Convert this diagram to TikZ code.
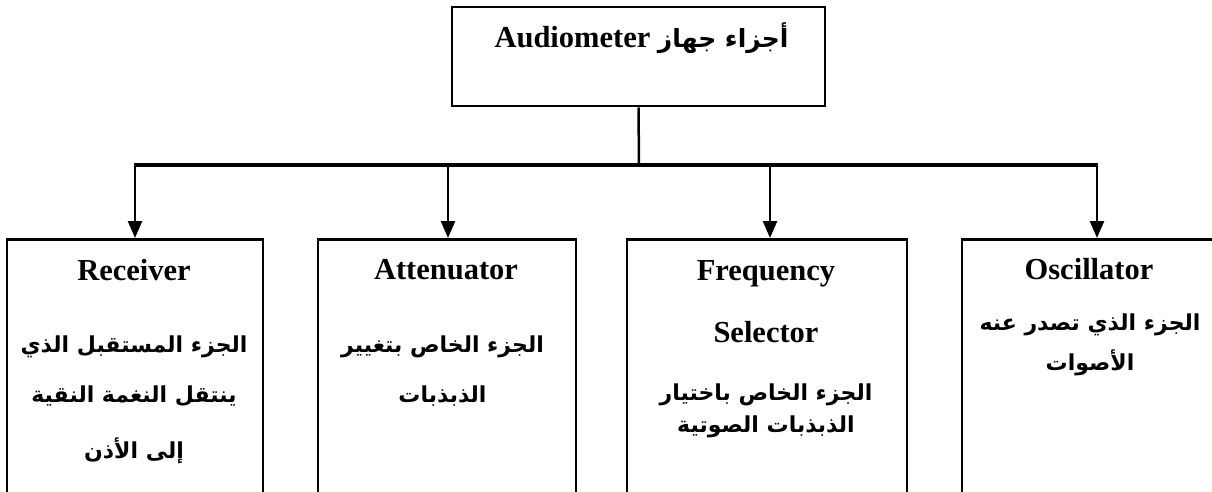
\documentclass[tikz,border=0pt]{standalone}
\usepackage{fontspec}
\setmainfont{Liberation Serif}
\newfontfamily\arabicfont[Script=Arabic]{DejaVu Sans}
\TeXXeTstate=1
\usetikzlibrary{arrows.meta}
\newcommand{\ar}[1]{{\arabicfont\bfseries\beginR #1\endR}}
\begin{document}
\begin{tikzpicture}[x=1pt,y=-1pt,
  boxstyle/.style={draw,line width=2.5pt,inner sep=0pt,anchor=north},
  entext/.style={font=\fontsize{30.5}{33}\selectfont\bfseries,anchor=base,inner sep=0pt},
  artext/.style={font=\fontsize{22}{26}\selectfont,anchor=base,inner sep=0pt},
  conn/.style={line width=2.5pt},
  arr/.style={line width=2.5pt,-{Triangle[length=17pt,width=14pt]}}]
\useasboundingbox (0,0) rectangle (1212,492);
\clip (0,0) rectangle (1212,492);
% top box
\node[boxstyle,minimum width=373pt,minimum height=99pt] (top) at (638.5,6) {};
\node[entext] (toptxt) at (641.5,48) {Audiometer {\fontsize{25}{28}\selectfont\ar{أجزاء جهاز}}};
% bottom boxes
\node[boxstyle,minimum width=256pt,minimum height=300pt] (b1) at (135,238) {};
\node[boxstyle,minimum width=258pt,minimum height=300pt] (b2) at (447,238) {};
\node[boxstyle,minimum width=280pt,minimum height=300pt] (b3) at (767,238) {};
\node[boxstyle,minimum width=280pt,minimum height=300pt] (b4) at (1102,238) {};
% junctions
\coordinate (j0) at (639,165);
\coordinate (j1) at (135,165);
\coordinate (j2) at (448,165);
\coordinate (j3) at (770,165);
\coordinate (j4) at (1097,165);
\draw[conn] (top.south) -- (j0);
\draw[line width=3.5pt] ([xshift=-1.25pt]j1) -- ([xshift=1.25pt]j4);
\draw[arr] (j1) -- (j1 |- b1.north);
\draw[arr] (j2) -- (j2 |- b2.north);
\draw[arr] (j3) -- (j3 |- b3.north);
\draw[arr] (j4) -- (j4 |- b4.north);
% box 1 texts
\node[entext] (r0) at (134,280) {Receiver};
\node[artext] (r1) at (134,352) {\ar{الجزء المستقبل الذي}};
\node[artext] (r2) at (134,402) {\ar{ينتقل النغمة النقية}};
\node[artext] (r3) at (134,458) {\ar{إلى الأذن}};
% box 2 texts
\node[entext] (a0) at (446,279) {Attenuator};
\node[artext] (a1) at (442.5,352) {\ar{الجزء الخاص بتغيير}};
\node[artext] (a2) at (442.5,402) {\ar{الذبذبات}};
% box 3 texts
\node[entext] (f0) at (766,280) {Frequency};
\node[entext] (f1) at (766,342) {Selector};
\node[artext] (f2) at (766,400) {\ar{الجزء الخاص باختيار}};
\node[artext] (f3) at (766,432) {\ar{الذبذبات الصوتية}};
% box 4 texts
\node[entext] (o0) at (1089,279) {Oscillator};
\node[artext] (o1) at (1090,330) {\ar{الجزء الذي تصدر عنه}};
\node[artext] (o2) at (1090,370) {\ar{الأصوات}};
\end{tikzpicture}
\end{document}
